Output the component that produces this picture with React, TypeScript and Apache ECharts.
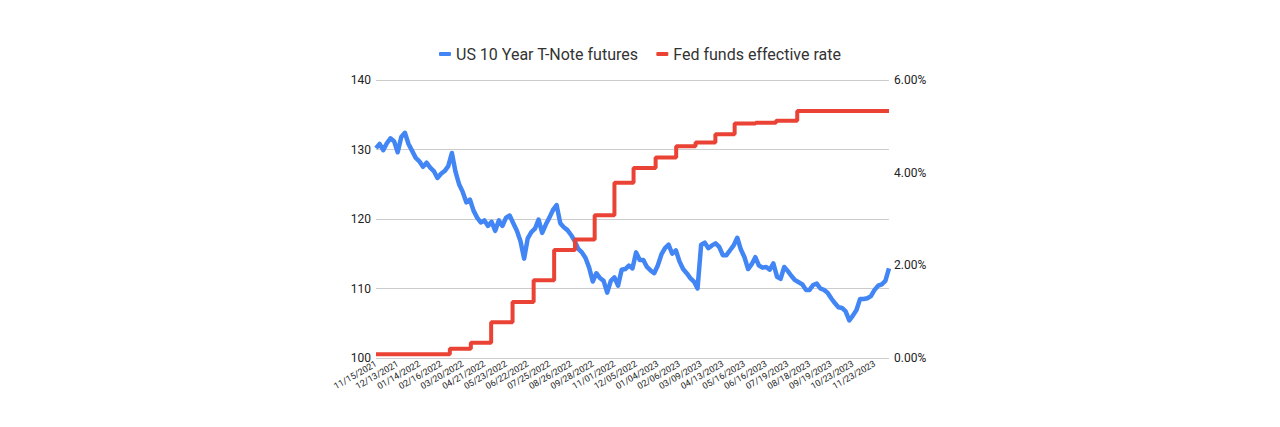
import React, { useEffect, useRef } from "react";
import * as echarts from "echarts";

// X-axis tick labels (one every SAMPLES_PER_TICK samples)
const tickLabels = [
  "11/15/2021", "12/13/2021", "01/14/2022", "02/16/2022", "03/20/2022", "04/21/2022",
  "05/23/2022", "06/22/2022", "07/25/2022", "08/26/2022", "09/28/2022", "11/01/2022",
  "12/05/2022", "01/04/2023", "02/06/2023", "03/09/2023", "04/13/2023", "05/16/2023",
  "06/16/2023", "07/19/2023", "08/18/2023", "09/19/2023", "10/23/2023", "11/23/2023",
];
const SAMPLES_PER_TICK = 6;

const tnoteFutures = [
  130.2, 130.8, 129.9, 130.9, 131.6, 131.2, 129.6, 131.8, 132.4, 130.8,
  129.8, 128.8, 128.3, 127.5, 128.1, 127.4, 126.9, 125.9, 126.5, 126.9,
  127.6, 129.5, 126.8, 125.0, 123.9, 122.4, 122.8, 121.2, 120.2, 119.5,
  119.8, 119.0, 119.6, 118.3, 119.8, 119.0, 120.2, 120.5, 119.4, 118.3,
  116.8, 114.3, 117.2, 118.1, 118.6, 119.9, 118.0, 119.2, 120.2, 121.3,
  122.0, 119.4, 118.8, 118.4, 117.7, 116.8, 115.7, 115.2, 114.4, 113.0,
  111.0, 112.2, 111.5, 111.1, 109.4, 111.1, 111.6, 110.4, 112.7, 112.8,
  113.3, 112.9, 115.2, 114.1, 114.1, 113.1, 112.6, 112.2, 113.3, 114.9,
  115.8, 116.3, 115.0, 115.5, 113.9, 112.8, 112.2, 111.5, 111.0, 110.0,
  116.3, 116.6, 115.8, 116.2, 116.5, 116.0, 114.8, 114.8, 115.5, 116.2,
  117.3, 115.6, 114.5, 112.8, 113.5, 114.5, 113.3, 113.0, 113.1, 112.7,
  113.6, 111.7, 111.4, 113.1, 112.5, 111.8, 111.2, 110.9, 110.6, 109.8,
  109.8, 110.5, 110.7, 110.0, 109.8, 109.4, 108.6, 107.9, 107.3, 107.2,
  106.7, 105.4, 106.1, 106.9, 108.5, 108.5, 108.6, 108.9, 109.8, 110.4,
  110.6, 111.1, 112.9,
];

// Fed funds effective rate, monthly averages (%)
const fedMonths = [
  "2021-11", "2021-12", "2022-01", "2022-02", "2022-03", "2022-04", "2022-05",
  "2022-06", "2022-07", "2022-08", "2022-09", "2022-10", "2022-11", "2022-12",
  "2023-01", "2023-02", "2023-03", "2023-04", "2023-05", "2023-06", "2023-07",
  "2023-08", "2023-09", "2023-10", "2023-11", "2023-12",
];
const fedRates = [
  0.08, 0.08, 0.08, 0.08, 0.20, 0.33, 0.77,
  1.21, 1.68, 2.33, 2.56, 3.08, 3.78, 4.10,
  4.33, 4.57, 4.65, 4.83, 5.06, 5.08, 5.12,
  5.33, 5.33, 5.33, 5.33, 5.33,
];

const BLUE = "#4285F4";
const RED = "#EA4335";
const FONT = "Roboto, 'Liberation Sans', Arial, sans-serif";

function parseTick(s: string): number {
  const [m, d, y] = s.split("/").map(Number);
  return Date.UTC(y, m - 1, d);
}

function monthPosition(ym: string, maxIdx: number): number {
  const [y, m] = ym.split("-").map(Number);
  const t = Date.UTC(y, m - 1, 1);
  const times = tickLabels.map(parseTick);
  let frac: number;
  if (t <= times[0]) frac = 0;
  else if (t >= times[times.length - 1]) {
    const n = times.length - 1;
    frac = n + (t - times[n]) / (times[n] - times[n - 1]);
  } else {
    let i = 0;
    while (times[i + 1] <= t) i++;
    frac = i + (t - times[i]) / (times[i + 1] - times[i]);
  }
  return Math.min(maxIdx, Math.max(0, frac * SAMPLES_PER_TICK));
}

export default function App() {
  const ref = useRef<HTMLDivElement>(null);

  useEffect(() => {
    if (!ref.current) return;
    const chart = echarts.init(ref.current, undefined, { renderer: "svg" });
    const maxIdx = tnoteFutures.length - 1;
    const blueData = tnoteFutures.map((v, i) => [i, v]);
    const redData: number[][] = fedMonths.map((m, i) => [monthPosition(m, maxIdx), fedRates[i]]);
    redData.push([maxIdx, fedRates[fedRates.length - 1]]);

    chart.setOption({
      animation: false,
      textStyle: { fontFamily: FONT },
      legend: {
        top: 41,
        left: "center",
        itemWidth: 12,
        itemHeight: 4,
        itemGap: 18,
        icon: "roundRect",
        textStyle: { fontSize: 16, color: "#333", fontFamily: FONT },
        data: [
          { name: "US 10 Year T-Note futures", itemStyle: { color: BLUE } },
          { name: "Fed funds effective rate", itemStyle: { color: RED } },
        ],
      },
      grid: { left: 376, right: 391, top: 80, bottom: 69, containLabel: false },
      xAxis: {
        type: "value",
        min: 0,
        max: maxIdx,
        interval: SAMPLES_PER_TICK,
        axisLine: { show: false },
        axisTick: { show: false },
        splitLine: { show: false },
        axisLabel: {
          rotate: 30,
          fontSize: 9,
          color: "#222",
          margin: 5,
          showMaxLabel: false,
          formatter: (v: number) => {
            const k = v / SAMPLES_PER_TICK;
            return Number.isInteger(k) && tickLabels[k] ? tickLabels[k] : "";
          },
        },
      },
      yAxis: [
        {
          type: "value",
          min: 100,
          max: 140,
          interval: 10,
          axisLine: { show: false },
          axisTick: { show: false },
          splitLine: { lineStyle: { color: "#cccccc", width: 1 } },
          axisLabel: { fontSize: 12, color: "#222", margin: 5 },
        },
        {
          type: "value",
          min: 0,
          max: 6,
          interval: 2,
          position: "right",
          axisLine: { show: false },
          axisTick: { show: false },
          splitLine: { show: false },
          axisLabel: {
            fontSize: 12,
            color: "#222",
            margin: 5,
            formatter: (v: number) => v.toFixed(2) + "%",
          },
        },
      ],
      series: [
        {
          name: "US 10 Year T-Note futures",
          type: "line",
          yAxisIndex: 0,
          data: blueData,
          showSymbol: false,
          lineStyle: { color: BLUE, width: 4.5, join: "round" },
          itemStyle: { color: BLUE },
        },
        {
          name: "Fed funds effective rate",
          type: "line",
          yAxisIndex: 1,
          step: "end",
          data: redData,
          showSymbol: false,
          lineStyle: { color: RED, width: 4 },
          itemStyle: { color: RED },
        },
      ],
    });
    return () => chart.dispose();
  }, []);

  return (
    <div
      ref={ref}
      style={{ position: "fixed", left: 0, top: 0, width: 1280, height: 427, background: "#fff" }}
    />
  );
}
